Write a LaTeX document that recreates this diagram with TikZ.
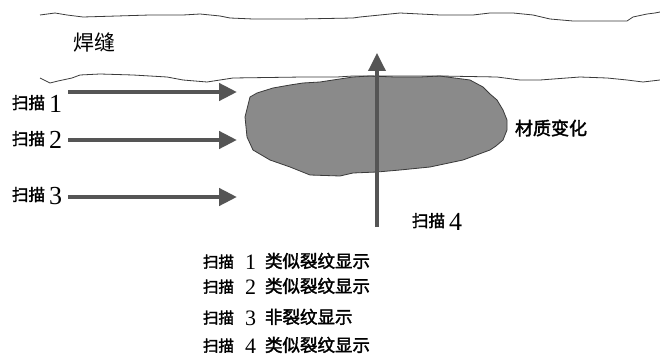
\documentclass[tikz,border=0pt]{standalone}
\usepackage{fontspec}
\usetikzlibrary{arrows.meta}
\newfontfamily\cjk{Noto Sans CJK SC}
\newfontfamily\cjkb[FakeBold=2]{Noto Sans CJK SC}
\newfontfamily\dig{Liberation Serif}
\definecolor{arrowgray}{HTML}{555555}
\definecolor{blobgray}{HTML}{8A8A8A}
\definecolor{linegray}{HTML}{3A3A3A}
\newcommand{\scanlbl}[1]{{\cjkb\fontsize{16.5}{16}\selectfont 扫描}\hspace{4pt}\raisebox{-4pt}{\dig\fontsize{26}{26}\selectfont #1}}
\newcommand{\listline}[2]{{\cjkb\fontsize{15.5}{16}\selectfont 扫描}\hspace{11pt}\raisebox{-1.5pt}{\dig\fontsize{22}{22}\selectfont #1}\hspace{9pt}{\cjkb\fontsize{17.5}{16}\selectfont #2}}
\begin{document}
\begin{tikzpicture}[x=1pt,y=-1pt,
  weld/.style={draw=linegray,line width=0.8pt,line join=round},
  scanarrow/.style={draw=arrowgray,line width=4.3pt,-{Triangle[length=18pt,width=17pt]}},
  lbl/.style={inner sep=0pt,outer sep=0pt,anchor=west}]
\useasboundingbox[fill=white] (0,0) rectangle (660,358);
% material change blob
\fill[blobgray,draw=linegray,line width=0.8pt,line join=round]
 (245,117) -- (250,97) -- (257,93) -- (273,88) -- (290,85) -- (303,83) -- (320,82) -- (333,80) -- (353,77) -- (370,76)
 -- (395,77) -- (420,77) -- (440,76) -- (447,77) -- (470,80) -- (483,87) -- (490,94) -- (497,100) -- (503,110) -- (507,120)
 -- (507,130) -- (503,140) -- (496,146) -- (490,150) -- (463,160) -- (430,167) -- (400,170) -- (377,172) -- (353,173)
 -- (340,176) -- (310,175) -- (290,167) -- (270,160) -- (253,150) -- (247,137) -- cycle;
% weld boundaries
\draw[weld] (40,15) -- (55,13) -- (67,15) -- (83,17) -- (117,16) -- (150,15) -- (183,15) -- (200,14) -- (220,16)
 -- (230,18) -- (253,19) -- (300,19) -- (353,18) -- (360,17) -- (400,13) -- (440,15) -- (473,15) -- (490,13) -- (513,13)
 -- (533,15) -- (550,19) -- (573,21) -- (627,21) -- (633,17) -- (647,14) -- (655,13) -- (660,12);
\draw[weld] (40,78) -- (50,83) -- (58,81) -- (72,78) -- (80,75) -- (100,74) -- (133,75) -- (167,77) -- (183,80)
 -- (207,82) -- (220,80) -- (233,78) -- (303,77) -- (337,77) -- (353,76) -- (440,76) -- (497,77) -- (520,80)
 -- (540,80) -- (580,77) -- (607,78) -- (627,80) -- (643,82) -- (660,80);
% texts
\node[lbl] (weld) at (73,43) {\cjk\fontsize{21}{21}\selectfont 焊缝};
\node[lbl] (mat) at (515,128) {\cjkb\fontsize{18}{18}\selectfont 材质变化};
\node[lbl] (l1) at (12,104) {\scanlbl{1}};
\node[lbl] (l2) at (12,140) {\scanlbl{2}};
\node[lbl] (l3) at (12,196) {\scanlbl{3}};
\node[lbl] (l4) at (412,222) {\scanlbl{4}};
\node[lbl] (r1) at (203,261) {\listline{1}{类似裂纹显示}};
\node[lbl] (r2) at (203,286) {\listline{2}{类似裂纹显示}};
\node[lbl] (r3) at (203,317) {\listline{3}{非裂纹显示}};
\node[lbl] (r4) at (203,345) {\listline{4}{类似裂纹显示}};
% scan arrows
\coordinate (a1s) at (68,92);  \coordinate (a1e) at (237,92);
\coordinate (a2s) at (68,140); \coordinate (a2e) at (237,140);
\coordinate (a3s) at (68,197); \coordinate (a3e) at (237,197);
\coordinate (a4s) at (377,227); \coordinate (a4e) at (377,53);
\draw[scanarrow] (a1s) -- (a1e);
\draw[scanarrow] (a2s) -- (a2e);
\draw[scanarrow] (a3s) -- (a3e);
\draw[scanarrow,line width=3.5pt] (a4s) -- (a4e);
\end{tikzpicture}
\end{document}
